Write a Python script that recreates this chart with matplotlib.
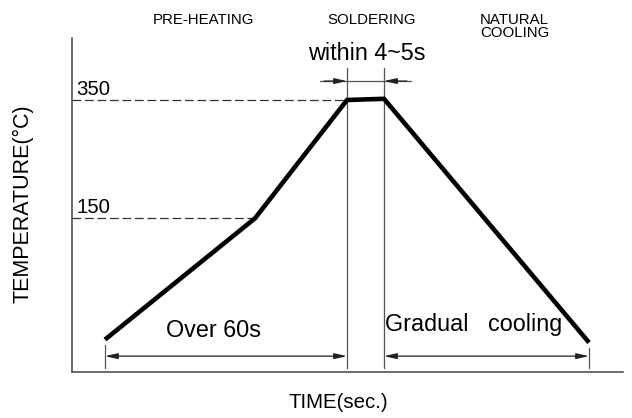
import matplotlib
matplotlib.use("Agg")
import matplotlib.pyplot as plt
from matplotlib import font_manager

# pick an Arial-like face
names = {f.name for f in font_manager.fontManager.ttflist}
plt.rcParams['font.family'] = ['Liberation Sans' if 'Liberation Sans' in names else 'DejaVu Sans']

# profile (schematic): time units, temperature in degC
time_pts = [33, 183, 275, 312, 517]
temp_pts = [-55, 150, 350, 352, -60]

# marked temperatures and their dashed guides
level_temps = [350, 150]
level_labels = ['350', '150']
level_times = [275, 183]

# phase labels on top
phase_labels = ['PRE-HEATING', 'SOLDERING', 'NATURAL\nCOOLING']

# dimension notes
dim_notes = ['Over 60s', 'within 4~5s', 'Gradual   cooling']

fig = plt.figure(figsize=(6.32, 4.18), dpi=100)
ax = fig.add_axes([72 / 632, 1 - 372 / 418, 551 / 632, 334 / 418])
ax.set_xlim(0, 551)
ax.set_ylim(-109.8, 454.8)
for s in ['top', 'right']:
    ax.spines[s].set_visible(False)
for s in ['left', 'bottom']:
    ax.spines[s].set_color('#444444')
    ax.spines[s].set_linewidth(1.1)
ax.set_xticks([])
ax.set_yticks([])

grey = '#555555'
ybot = -103

# dashed guides + labels
for t, lab, tx in zip(level_temps, level_labels, level_times):
    ax.plot([0, tx], [t, t], color='#333333', lw=0.9, ls=(0, (7, 3)))
    ax.text(4, t + 8.5, lab, fontsize=14.7, ha='left', va='baseline')

# vertical boundary lines of soldering window
for tx in time_pts[2:4]:
    ax.plot([tx, tx], [404, ybot], color=grey, lw=0.9)
# short end ticks
ax.plot([time_pts[0]] * 2, [-64, ybot], color=grey, lw=0.9)
ax.plot([time_pts[-1]] * 2, [-69, ybot], color=grey, lw=0.9)

# profile curve
ax.plot(time_pts, temp_pts, color='black', lw=3.3, solid_joinstyle='miter',
        solid_capstyle='butt')

arrow = dict(arrowstyle='<|-|>,head_length=0.75,head_width=0.17', color='#222222',
             lw=0.9, shrinkA=0, shrinkB=0)
ydim = -83
ax.annotate('', xy=(time_pts[0], ydim), xytext=(time_pts[2], ydim), arrowprops=arrow)
ax.annotate('', xy=(time_pts[3], ydim), xytext=(time_pts[4], ydim), arrowprops=arrow)

# top dimension: arrows pointing inward
ytop = 382
ax.plot([248, 339], [ytop, ytop], color=grey, lw=0.9)
one = dict(arrowstyle='-|>,head_length=0.75,head_width=0.17', color='#222222',
           lw=0.9, shrinkA=0, shrinkB=0)
ax.annotate('', xy=(time_pts[2], ytop), xytext=(252, ytop), arrowprops=one)
ax.annotate('', xy=(time_pts[3], ytop), xytext=(335, ytop), arrowprops=one)

# notes
ax.text(141, -50.7, dim_notes[0], fontsize=16.8, ha='center', va='baseline')
ax.text(295, 417.6, dim_notes[1], fontsize=16.8, ha='center', va='baseline')
ax.text(402, -40.5, dim_notes[2], fontsize=16.8, ha='center', va='baseline')

# phase labels
ax.text(131, 497, phase_labels[0], fontsize=10.8, ha='center', va='top', clip_on=False)
ax.text(300, 497, phase_labels[1], fontsize=10.8, ha='center', va='top', clip_on=False)
ax.text(408, 497, phase_labels[2], fontsize=10.8, ha='left', va='top',
        linespacing=0.95, clip_on=False)

# axis titles
fig.text(338 / 632, 1 - 402 / 418, 'TIME(sec.)', fontsize=14.7, ha='center', va='center')
fig.text(23 / 632, 1 - 204 / 418, 'TEMPERATURE(°C)', fontsize=15.5, ha='center',
         va='center', rotation=90)

fig.savefig('out.png', dpi=100)
